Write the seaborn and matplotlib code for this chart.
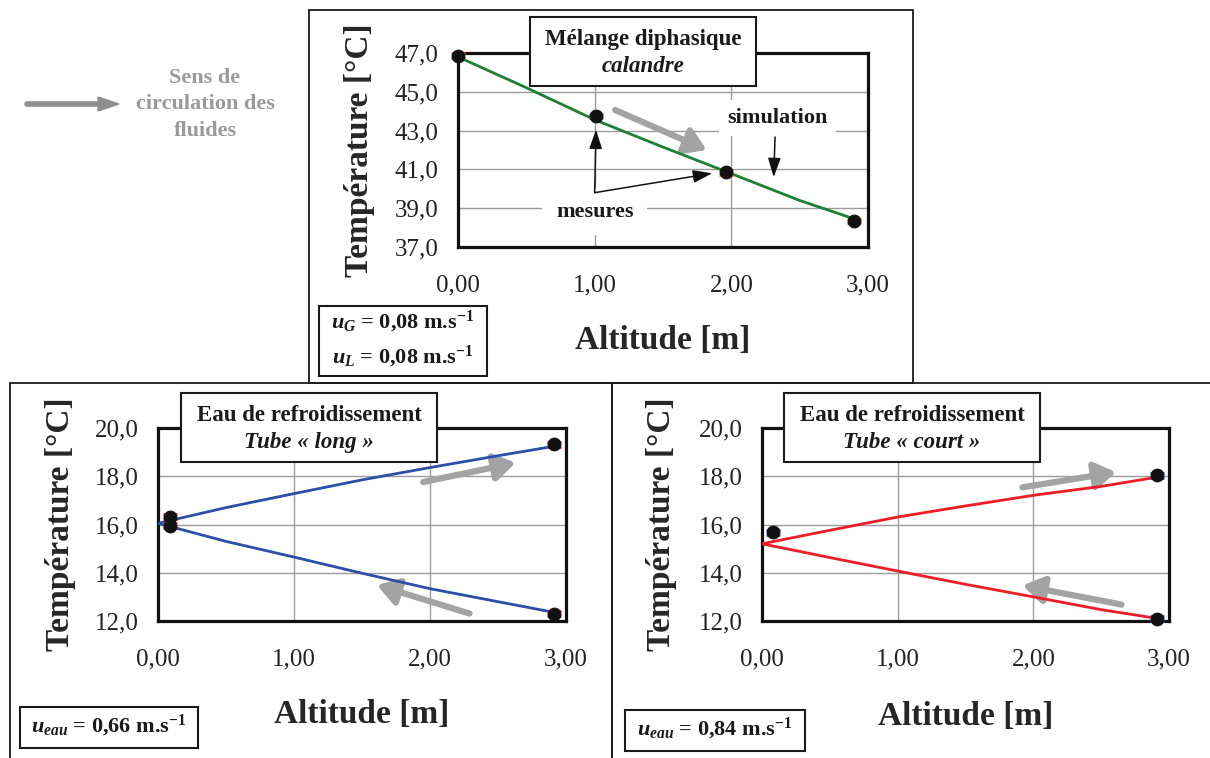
import matplotlib
matplotlib.use("Agg")
import matplotlib.pyplot as plt
import seaborn as sns
from matplotlib.patches import Rectangle
from matplotlib.ticker import FuncFormatter, MultipleLocator

# --- data ------------------------------------------------------------------
# top: two-phase mixture, shell side
calandre_x_mes = [0.0, 1.01, 1.96, 2.90]
calandre_t_mes = [46.86, 43.75, 40.85, 38.34]
calandre_x_sim = [0.0, 0.5, 1.0, 1.5, 2.0, 2.5, 2.92]
calandre_t_sim = [46.8, 45.21, 43.56, 42.15, 40.78, 39.4, 38.4]
calandre_yticks = [37, 39, 41, 43, 45, 47]

# bottom left: cooling water, long tube
long_x_mes = [0.09, 0.09, 2.91, 2.91]
long_t_mes = [16.32, 15.95, 19.32, 12.31]
long_x_sim = [0.0, 0.5, 1.0, 1.5, 2.0, 2.5, 2.92]
long_t_up = [16.05, 16.7, 17.28, 17.85, 18.36, 18.85, 19.25]
long_t_down = [16.05, 15.3, 14.65, 13.98, 13.34, 12.8, 12.35]

# bottom right: cooling water, short tube
court_x_mes = [0.08, 2.91, 2.91]
court_t_mes = [15.68, 18.04, 12.09]
court_x_sim = [0.0, 0.5, 1.0, 1.5, 2.0, 2.5, 2.92]
court_t_up = [15.2, 15.76, 16.31, 16.77, 17.21, 17.58, 17.97]
court_t_down = [15.2, 14.63, 14.07, 13.52, 13.0, 12.47, 12.1]

water_yticks = [12, 14, 16, 18, 20]

W, H = 1210, 758
SERIF = "Liberation Serif"
GREY_ARROW = "#a3a3a3"

sns.set_style("white")
plt.rcParams["font.family"] = [SERIF, "DejaVu Serif"]
plt.rcParams["mathtext.fontset"] = "custom"
plt.rcParams["mathtext.rm"] = "Liberation Serif:bold"
plt.rcParams["mathtext.bf"] = "Liberation Serif:bold"
plt.rcParams["mathtext.it"] = "Liberation Serif:bold:italic"

fig = plt.figure(figsize=(W / 100, H / 100), dpi=100)
fig.patch.set_facecolor("white")


def fx(x):
    return x / W


def fy(y):
    return 1 - y / H


def add_axes_px(left, right, top, bottom):
    return fig.add_axes([fx(left), fy(bottom), (right - left) / W, (bottom - top) / H])


def frame(x0, x1, y0, y1, lw=1.3, fill=False):
    r = Rectangle((fx(x0), fy(y1)), (x1 - x0) / W, (y1 - y0) / H, transform=fig.transFigure,
                  fill=fill, facecolor="white", edgecolor="#1a1a1a", lw=lw, zorder=4)
    fig.add_artist(r)


def style_axes(ax, ylim, yticks, lab_y, lab_x):
    ax.set_xlim(0, 3.0)
    ax.set_ylim(*ylim)
    ax.xaxis.set_major_locator(MultipleLocator(1.0))
    ax.set_yticks(yticks)
    ax.xaxis.set_major_formatter(FuncFormatter(lambda v, p: f"{v:.2f}".replace(".", ",")))
    ax.yaxis.set_major_formatter(FuncFormatter(lambda v, p: f"{v:.1f}".replace(".", ",")))
    ax.grid(True, color="#9c9c9c", lw=1.0)
    ax.set_axisbelow(True)
    for s in ax.spines.values():
        s.set_visible(True)
        s.set_color("#111111")
        s.set_linewidth(2.3)
    ax.tick_params(axis="both", direction="in", length=6, width=2, colors="#111111",
                   labelsize=18, labelcolor="#222222")
    ax.tick_params(axis="x", pad=20)
    ax.tick_params(axis="y", pad=14)
    ax.set_xlabel("Altitude [m]", fontsize=24, fontweight="bold", va="center")
    ax.set_ylabel("Température [°C]", fontsize=24, fontweight="bold", va="center", ha="center")
    ax.xaxis.set_label_coords(0.5, lab_x)
    ax.yaxis.set_label_coords(lab_y, 0.5)


def measures(ax, xs, ys, cap_color, err):
    ax.errorbar(xs, ys, yerr=err, fmt="none", ecolor=cap_color, capsize=5, capthick=2,
                elinewidth=1.5, zorder=5, clip_on=False)
    sns.scatterplot(x=xs, y=ys, ax=ax, color="#111111", s=85, edgecolor="#111111", zorder=6,
                    clip_on=False)


def grey_arrow(ax, start, end):
    ax.annotate("", xy=end, xytext=start,
                arrowprops=dict(arrowstyle="-|>,head_length=0.7,head_width=0.45", color=GREY_ARROW,
                                lw=4.5, mutation_scale=18, shrinkA=0, shrinkB=0))


def black_arrow(ax, start, end):
    ax.annotate("", xy=end, xytext=start,
                arrowprops=dict(arrowstyle="-|>,head_length=0.9,head_width=0.3", color="#111111",
                                lw=1.1, mutation_scale=13, shrinkA=0, shrinkB=0))


def title_box(x0, x1, y0, y1, line1, line2):
    frame(x0, x1, y0, y1, lw=1.5, fill=True)
    cx = fx((x0 + x1) / 2)
    fig.text(cx, fy(y0 + (y1 - y0) * 0.32), line1, ha="center", va="center",
             fontsize=16.5, fontweight="bold", color="#1a1a1a", zorder=5)
    fig.text(cx, fy(y0 + (y1 - y0) * 0.72), line2, ha="center", va="center",
             fontsize=16.5, fontweight="bold", style="italic", color="#1a1a1a", zorder=5)


def param_box(x0, x1, y0, y1, lines):
    frame(x0, x1, y0, y1, lw=1.5, fill=True)
    n = len(lines)
    for i, t in enumerate(lines):
        yc = y0 + (y1 - y0) * (i + 0.5) / n - 2
        fig.text(fx((x0 + x1) / 2), fy(yc), t, ha="center", va="center",
                 fontsize=16, fontweight="bold", color="#1a1a1a", zorder=5)


# --- panel frames -----------------------------------------------------------
frame(309, 913, 10, 383)
frame(10, 612, 383, 762)
frame(612, 1215, 383, 762)

# --- top: calandre ----------------------------------------------------------
ax1 = add_axes_px(458, 868, 53, 247)
sns.lineplot(x=calandre_x_sim, y=calandre_t_sim, ax=ax1, color="#1e7f35", lw=2, zorder=4)
measures(ax1, calandre_x_mes, calandre_t_mes, "#f06a1a", 0.12)
style_axes(ax1, (37, 47), calandre_yticks, -0.24, -0.48)
grey_arrow(ax1, (1.15, 44.06), (1.82, 42.0))
ax1.text(2.34, 43.65, "simulation", ha="center", va="center", fontsize=16, fontweight="bold",
         color="#1a1a1a", bbox=dict(facecolor="white", edgecolor="none", pad=6))
black_arrow(ax1, (2.32, 42.67), (2.31, 40.6))
ax1.text(1.0, 38.82, "mesures", ha="center", va="center", fontsize=16, fontweight="bold",
         color="#1a1a1a", bbox=dict(facecolor="white", edgecolor="none", pad=10))
black_arrow(ax1, (1.0, 39.8), (1.01, 43.05))
black_arrow(ax1, (1.0, 39.8), (1.86, 40.8))

# --- bottom left: long tube -------------------------------------------------
ax2 = add_axes_px(158, 566, 428, 621)
sns.lineplot(x=long_x_sim, y=long_t_up, ax=ax2, color="#2c4ea6", lw=2, zorder=4)
sns.lineplot(x=long_x_sim, y=long_t_down, ax=ax2, color="#2c4ea6", lw=2, zorder=4)
measures(ax2, long_x_mes, long_t_mes, "#e8202a", 0.1)
style_axes(ax2, (12, 20), water_yticks, -0.24, -0.487)
grey_arrow(ax2, (1.95, 17.76), (2.63, 18.56))
grey_arrow(ax2, (2.29, 12.31), (1.61, 13.49))

# --- bottom right: short tube -----------------------------------------------
ax3 = add_axes_px(762, 1169, 428, 621)
sns.lineplot(x=court_x_sim, y=court_t_up, ax=ax3, color="#ee1c25", lw=2, zorder=4)
sns.lineplot(x=court_x_sim, y=court_t_down, ax=ax3, color="#ee1c25", lw=2, zorder=4)
measures(ax3, court_x_mes, court_t_mes, "#3a62c8", 0.1)
style_axes(ax3, (12, 20), water_yticks, -0.247, -0.497)
grey_arrow(ax3, (1.92, 17.54), (2.61, 18.17))
grey_arrow(ax3, (2.65, 12.68), (1.92, 13.47))

# --- title and parameter boxes ---------------------------------------------
title_box(530, 756, 17, 86, "Mélange diphasique", "calandre")
title_box(181, 437, 393, 462, "Eau de refroidissement", "Tube « long »")
title_box(784, 1040, 393, 462, "Eau de refroidissement", "Tube « court »")

param_box(319, 487, 306, 376, [r"$u_{G}$ = 0,08 m.s$^{-1}$", r"$u_{L}$ = 0,08 m.s$^{-1}$"])
param_box(20, 198, 707, 748, [r"$u_{eau}$ = 0,66 m.s$^{-1}$"])
param_box(625, 805, 710, 751, [r"$u_{eau}$ = 0,84 m.s$^{-1}$"])

# --- flow direction key -----------------------------------------------------
fig.add_artist(plt.Line2D([fx(27), fx(100)], [fy(104), fy(104)], color="#8e8e8e", lw=4,
                          transform=fig.transFigure))
fig.patches.append(plt.Polygon([[fx(98), fy(97)], [fx(119), fy(104)], [fx(98), fy(111)]],
                               closed=True, color="#8e8e8e", transform=fig.transFigure))
for yy, t in zip([78, 104, 131], ["Sens de", "circulation des", "fluides"]):
    fig.text(fx(205), fy(yy), t, ha="center", va="center", fontsize=16, fontweight="bold",
             color="#9a9a9a")

fig.savefig("out.png", dpi=100)
